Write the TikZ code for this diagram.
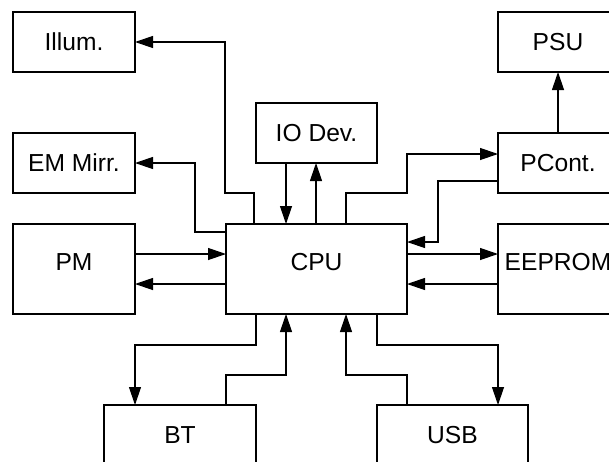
\documentclass[tikz,border=0pt]{standalone}
\usepackage{fontspec}
\setmainfont{Liberation Sans}
\usetikzlibrary{arrows.meta}
\begin{document}
\begin{tikzpicture}[x=1pt,y=-1pt,
  box/.style={draw, line width=1.2pt, inner sep=0pt, outer sep=0pt, minimum width=122pt, minimum height=60pt,
    font=\fontsize{24.6}{28}\selectfont, text height=17.6pt, text depth=0pt},
  bigbox/.style={box, minimum height=90pt, text height=18pt, text depth=15pt},
  arr/.style={line width=1.2pt, -{Triangle[length=18pt,width=12pt]}}]
\useasboundingbox (0,0) rectangle (609,461);
\clip (0,0) rectangle (609,461);
% boxes
\node[box] (illum) at (74,42) {Illum.};
\node[box] (emm) at (74,163) {EM Mirr.};
\node[bigbox] (pm) at (74,269) {PM};
\node[bigbox, minimum width=181pt] (cpu) at (316.5,269) {CPU};
\node[box, minimum width=121pt] (io) at (316.5,133) {IO Dev.};
\node[box, minimum width=120pt] (psu) at (558,42) {PSU};
\node[box, minimum width=120pt] (pcont) at (558,163) {PCont.};
\node[bigbox, minimum width=120pt] (eeprom) at (558,269) {EEPROM};
\node[box, minimum width=152pt] (bt) at (180,435) {BT};
\node[box, minimum width=151pt] (usb) at (452.5,435) {USB};
% connectors
\draw[arr] (cpu.north -| 254,0) -- (254,193) -- (225,193) |- (illum.east);
\draw[arr] (cpu.west |- 0,232) -- (195,232) |- (emm.east);
\draw[arr] (io.south -| 286,0) -- (cpu.north -| 286,0);
\draw[arr] (cpu.north -| 316,0) -- (io.south -| 316,0);
\draw[arr] (cpu.north -| 346,0) -- (346,193) -- (407,193) |- (pcont.west |- 0,154);
\draw[arr] (pcont.west |- 0,181) -- (438,181) |- (cpu.east |- 0,242);
\draw[arr] (pcont.north) -- (psu.south);
\draw[arr] (pm.east |- 0,254) -- (cpu.west |- 0,254);
\draw[arr] (cpu.west |- 0,284) -- (pm.east |- 0,284);
\draw[arr] (cpu.east |- 0,254) -- (eeprom.west |- 0,254);
\draw[arr] (eeprom.west |- 0,284) -- (cpu.east |- 0,284);
\draw[arr] (cpu.south -| 256,0) -- (256,345) -| (bt.north -| 135,0);
\draw[arr] (bt.north -| 226,0) -- (226,375) -| (cpu.south -| 286,0);
\draw[arr] (usb.north -| 407,0) -- (407,375) -| (cpu.south -| 346,0);
\draw[arr] (cpu.south -| 377,0) -- (377,345) -| (usb.north -| 498,0);
\end{tikzpicture}
\end{document}
